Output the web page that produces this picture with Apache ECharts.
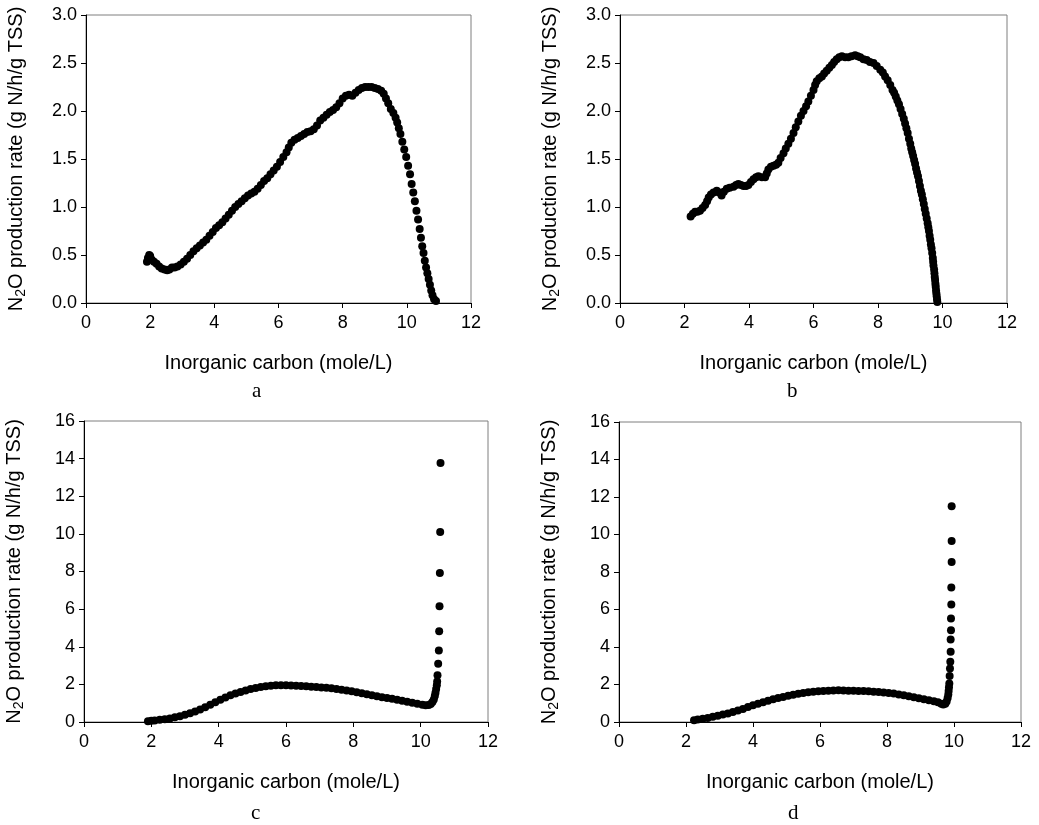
<!DOCTYPE html>
<html>
<head>
<meta charset="utf-8">
<script src="https://cdn.jsdelivr.net/npm/echarts@6/dist/echarts.min.js"></script>
<style>
html,body{margin:0;padding:0;background:#fff;}
#chart{width:1039px;height:825px;}
</style>
</head>
<body>
<div id="chart"></div>
<script>
// ---- Data ----
var xTicks = [0, 2, 4, 6, 8, 10, 12];
var panelLabels = ['a', 'b', 'c', 'd'];
var xTitle = 'Inorganic carbon (mole/L)';

// Panel a: [inorganic carbon, N2O production rate]
var panelA = [
[1.90,0.43],[1.93,0.47],[1.97,0.50],[2.00,0.49],[2.05,0.45],[2.12,0.43],[2.20,0.41],[2.28,0.38],
[2.36,0.36],[2.45,0.35],[2.53,0.34],[2.60,0.35],[2.68,0.37],[2.76,0.37],[2.85,0.38],[2.95,0.40],
[3.05,0.43],[3.15,0.46],[3.25,0.50],[3.35,0.54],[3.45,0.57],[3.55,0.60],[3.65,0.63],[3.75,0.66],
[3.85,0.70],[3.95,0.74],[4.05,0.78],[4.15,0.81],[4.25,0.84],[4.35,0.88],[4.45,0.92],[4.55,0.96],
[4.65,1.00],[4.75,1.03],[4.85,1.06],[4.95,1.09],[5.05,1.12],[5.15,1.14],[5.25,1.16],[5.35,1.19],
[5.45,1.23],[5.55,1.27],[5.65,1.30],[5.75,1.34],[5.85,1.38],[5.95,1.42],[6.05,1.47],[6.15,1.52],
[6.25,1.57],[6.32,1.62],[6.40,1.67],[6.50,1.70],[6.60,1.72],[6.70,1.74],[6.80,1.76],[6.90,1.78],
[7.00,1.79],[7.10,1.81],[7.20,1.85],[7.30,1.90],[7.40,1.93],[7.50,1.96],[7.60,1.99],[7.70,2.01],
[7.80,2.04],[7.90,2.08],[8.00,2.13],[8.10,2.16],[8.20,2.17],[8.30,2.16],[8.40,2.19],[8.50,2.22],
[8.60,2.24],[8.70,2.25],[8.80,2.25],[8.90,2.25],[9.00,2.24],[9.10,2.23],[9.20,2.21],[9.28,2.18],
[9.35,2.13],[9.42,2.08],[9.50,2.02],[9.58,1.98],[9.65,1.93],[9.70,1.88],[9.75,1.82],[9.80,1.76],
[9.86,1.68],[9.92,1.60],[9.98,1.52],[10.04,1.43],[10.10,1.34],[10.15,1.24],[10.20,1.15],[10.25,1.06],
[10.30,0.96],[10.35,0.87],[10.40,0.77],[10.44,0.68],[10.48,0.59],[10.52,0.52],[10.56,0.44],[10.60,0.37],
[10.64,0.31],[10.68,0.25],[10.72,0.19],[10.76,0.13],[10.80,0.08],[10.85,0.04],[10.91,0.02]
];

// Panel b
var panelB = [
[2.19,0.90],[2.26,0.93],[2.33,0.95],[2.40,0.95],[2.48,0.96],[2.56,0.99],[2.64,1.02],[2.70,1.06],
[2.75,1.10],[2.82,1.13],[2.90,1.15],[3.00,1.17],[3.07,1.15],[3.15,1.12],[3.22,1.16],[3.31,1.19],
[3.40,1.20],[3.52,1.21],[3.60,1.23],[3.67,1.24],[3.75,1.23],[3.83,1.22],[3.91,1.22],[3.98,1.23],
[4.06,1.26],[4.14,1.29],[4.22,1.31],[4.29,1.32],[4.40,1.31],[4.50,1.31],[4.55,1.35],[4.60,1.39],
[4.68,1.42],[4.76,1.43],[4.84,1.44],[4.91,1.46],[4.98,1.51],[5.07,1.56],[5.14,1.61],[5.22,1.66],
[5.30,1.71],[5.38,1.77],[5.45,1.83],[5.53,1.89],[5.61,1.95],[5.69,2.00],[5.77,2.05],[5.84,2.10],
[5.92,2.16],[6.00,2.22],[6.05,2.27],[6.10,2.31],[6.18,2.34],[6.26,2.36],[6.33,2.39],[6.41,2.42],
[6.49,2.45],[6.57,2.48],[6.64,2.51],[6.72,2.54],[6.80,2.56],[6.88,2.57],[6.98,2.56],[7.08,2.56],
[7.18,2.57],[7.29,2.58],[7.37,2.57],[7.45,2.56],[7.55,2.54],[7.65,2.53],[7.75,2.51],[7.86,2.50],
[7.96,2.47],[8.07,2.43],[8.15,2.40],[8.22,2.36],[8.30,2.32],[8.38,2.27],[8.45,2.22],[8.50,2.19],
[8.55,2.15],[8.60,2.11],[8.65,2.07],[8.70,2.02],[8.75,1.97],[8.80,1.92],[8.84,1.87],[8.88,1.82],
[8.92,1.77],[8.96,1.71],[9.00,1.66],[9.03,1.61],[9.06,1.57],[9.09,1.53],[9.12,1.49],[9.15,1.45],
[9.18,1.40],[9.21,1.36],[9.24,1.32],[9.27,1.27],[9.30,1.22],[9.33,1.17],[9.36,1.13],[9.39,1.08],
[9.42,1.03],[9.45,0.98],[9.48,0.93],[9.51,0.88],[9.54,0.83],[9.56,0.79],[9.58,0.75],[9.60,0.70],
[9.62,0.66],[9.64,0.61],[9.66,0.57],[9.68,0.52],[9.70,0.47],[9.71,0.43],[9.72,0.39],[9.74,0.35],
[9.75,0.31],[9.76,0.27],[9.77,0.24],[9.78,0.20],[9.79,0.17],[9.80,0.13],[9.81,0.10],[9.82,0.07],
[9.83,0.04],[9.84,0.01]
];

// Panel c
var panelC = [
[1.90,0.04],[2.00,0.06],[2.10,0.08],[2.25,0.12],[2.40,0.15],[2.55,0.19],[2.70,0.25],[2.85,0.31],
[3.00,0.38],[3.15,0.46],[3.30,0.56],[3.45,0.67],[3.60,0.79],[3.75,0.92],[3.90,1.05],[4.05,1.18],
[4.20,1.30],[4.35,1.42],[4.50,1.52],[4.65,1.60],[4.80,1.68],[4.95,1.75],[5.10,1.81],[5.25,1.86],
[5.40,1.90],[5.55,1.93],[5.70,1.95],[5.85,1.95],[6.00,1.95],[6.15,1.94],[6.30,1.93],[6.45,1.92],
[6.60,1.90],[6.75,1.88],[6.90,1.86],[7.05,1.84],[7.20,1.82],[7.35,1.80],[7.50,1.76],[7.65,1.72],
[7.80,1.68],[7.95,1.63],[8.10,1.58],[8.25,1.53],[8.40,1.48],[8.55,1.42],[8.70,1.37],[8.85,1.32],
[9.00,1.28],[9.15,1.23],[9.30,1.18],[9.45,1.13],[9.60,1.07],[9.75,1.02],[9.90,0.97],[10.05,0.92],
[10.15,0.89],[10.24,0.90],[10.30,0.96],[10.35,1.06],[10.39,1.20],[10.42,1.38],[10.44,1.56],[10.46,1.76],
[10.48,1.96],[10.49,2.15],[10.50,2.48],[10.52,3.10],[10.54,3.80],[10.55,4.83],[10.56,6.15],[10.57,7.92],
[10.58,10.10],[10.59,13.77]
];

// Panel d
var panelD = [
[2.24,0.10],[2.35,0.14],[2.50,0.18],[2.65,0.22],[2.80,0.28],[2.95,0.34],[3.10,0.40],[3.25,0.46],
[3.40,0.53],[3.55,0.61],[3.70,0.70],[3.85,0.80],[4.00,0.89],[4.15,0.97],[4.30,1.05],[4.45,1.13],
[4.60,1.21],[4.75,1.28],[4.90,1.34],[5.05,1.40],[5.20,1.46],[5.35,1.51],[5.50,1.55],[5.65,1.59],
[5.80,1.62],[5.95,1.64],[6.10,1.66],[6.25,1.67],[6.40,1.68],[6.55,1.69],[6.70,1.68],[6.85,1.67],
[7.00,1.67],[7.15,1.66],[7.30,1.65],[7.45,1.64],[7.60,1.62],[7.75,1.60],[7.90,1.58],[8.05,1.55],
[8.20,1.52],[8.35,1.47],[8.50,1.43],[8.65,1.38],[8.80,1.32],[8.95,1.27],[9.10,1.21],[9.25,1.16],
[9.40,1.11],[9.52,1.05],[9.62,0.98],[9.68,0.93],[9.74,0.98],[9.78,1.10],[9.81,1.28],[9.83,1.47],
[9.84,1.66],[9.85,1.85],[9.86,2.06],[9.87,2.45],[9.88,2.86],[9.89,3.21],[9.90,3.75],[9.90,4.40],
[9.91,4.90],[9.91,5.52],[9.92,6.27],[9.92,7.18],[9.93,8.54],[9.93,9.66],[9.93,11.51]
];

var panels = [panelA, panelB, panelC, panelD];
var yMax = [3, 3, 16, 16];
var yStep = [0.5, 0.5, 2, 2];
var yDecimals = [1, 1, 0, 0];

// ---- Layout ----
var grids = [
  {left: 86, top: 15, width: 385, height: 288},
  {left: 620, top: 15, width: 387, height: 288},
  {left: 84, top: 421, width: 404, height: 301},
  {left: 619, top: 422, width: 402, height: 300}
];
var labelPos = [[258, 381], [793, 381], [257, 803], [794, 803]];

var FONT = '"Liberation Sans", Arial, sans-serif';
var option = {
  backgroundColor: '#ffffff',
  animation: false,
  grid: grids.map(function (g) {
    return Object.assign({show: true, borderColor: '#7f7f7f', borderWidth: 1, backgroundColor: 'transparent', containLabel: false}, g);
  }),
  xAxis: grids.map(function (g, i) {
    return {
      gridIndex: i, type: 'value', min: 0, max: 12, interval: 2,
      name: xTitle, nameLocation: 'middle', nameGap: 50,
      nameTextStyle: {fontFamily: FONT, fontSize: 20, color: '#000'},
      axisLine: {show: true, onZero: false, lineStyle: {color: '#000', width: 1}},
      axisTick: {show: true, inside: false, length: 5, lineStyle: {color: '#000'}},
      axisLabel: {fontFamily: FONT, fontSize: 18, color: '#000', margin: 11},
      splitLine: {show: false}
    };
  }),
  yAxis: grids.map(function (g, i) {
    return {
      gridIndex: i, type: 'value', min: 0, max: yMax[i], interval: yStep[i],
      name: '{n|N}{s|2}{n|O production rate (g N/h/g TSS)}',
      nameLocation: 'middle', nameRotate: 90, nameGap: 58,
      nameTextStyle: {
        fontFamily: FONT, fontSize: 20, color: '#000',
        rich: {
          n: {fontFamily: FONT, fontSize: 20, color: '#000'},
          s: {fontFamily: FONT, fontSize: 14, color: '#000', verticalAlign: 'bottom', padding: [10, 0, 0, 0]}
        }
      },
      axisLine: {show: true, onZero: false, lineStyle: {color: '#000', width: 1}},
      axisTick: {show: true, inside: false, length: 5, lineStyle: {color: '#000'}},
      axisLabel: {fontFamily: FONT, fontSize: 18, color: '#000', margin: 9,
        formatter: (function (d) { return function (v) { return v.toFixed(d); }; })(yDecimals[i])},
      splitLine: {show: false}
    };
  }),
  series: panels.map(function (p, i) {
    return {
      type: 'scatter', xAxisIndex: i, yAxisIndex: i, data: p,
      symbol: 'circle', symbolSize: 8,
      itemStyle: {color: '#000', opacity: 1},
      emphasis: {disabled: true}
    };
  }),
  graphic: panelLabels.map(function (t, i) {
    return {
      type: 'text', left: labelPos[i][0] - 6, top: labelPos[i][1],
      style: {text: t, font: '21px "Liberation Serif", "Times New Roman", serif', fill: '#000'}
    };
  })
};

var chart = echarts.init(document.getElementById('chart'), null, {renderer: 'canvas'});
chart.setOption(option);
</script>
</body>
</html>
